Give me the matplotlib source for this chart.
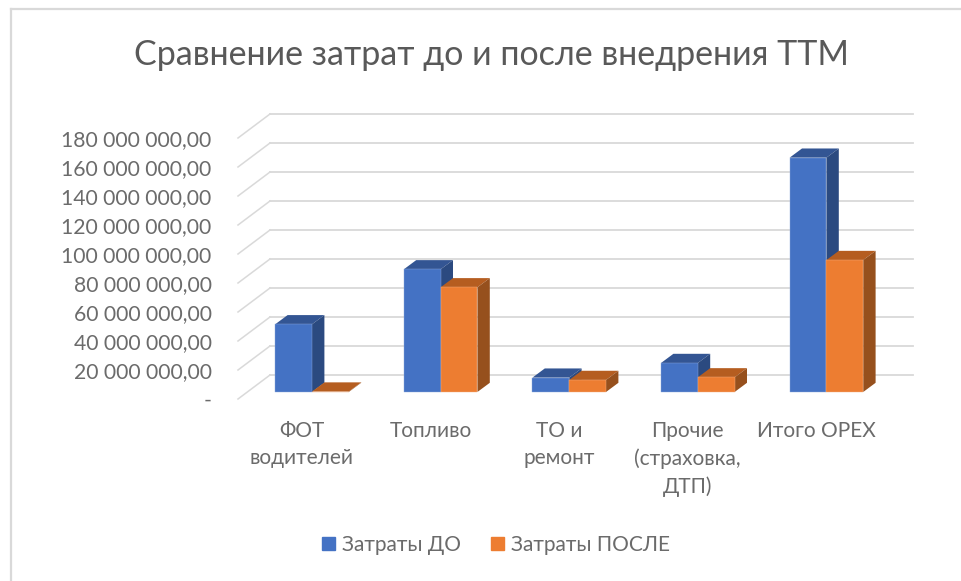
#!/usr/bin/python
# -*- coding: utf-8 -*-

import matplotlib
matplotlib.use("Agg")
import matplotlib.pyplot as plt
from matplotlib.patches import Patch, Polygon
from matplotlib.transforms import Affine2D, ScaledTranslation

plt.rcParams['font.family'] = ['Lato', 'Noto Sans', 'DejaVu Sans']

categories = ["ФОТ\nводителей", "Топливо", "ТО и\nремонт", "Прочие\n(страховка,\nДТП)", "Итого OPEX"]
costs_before = [46700000, 84600000, 9900000, 20000000, 161600000]
costs_after = [300000, 72200000, 8300000, 10100000, 91000000]
tick_values = [0, 20000000, 40000000, 60000000, 80000000, 100000000, 120000000, 140000000, 160000000, 180000000]
tick_labels = ["-", "20 000 000,00", "40 000 000,00", "60 000 000,00", "80 000 000,00", "100 000 000,00",
               "120 000 000,00", "140 000 000,00", "160 000 000,00", "180 000 000,00"]

W, H = 961, 581
GREY = "#D9D9D9"
TEXT = "#6B6B6B"
BLUE = ("#4472C4", "#335593", "#2B4A80")
ORANGE = ("#ED7D31", "#B55D20", "#96501D")

fig = plt.figure(figsize=(W / 100, H / 100), dpi=100)
ax = fig.add_axes([238 / W, (H - 392) / H, (913 - 238) / W, 261 / H])
ax.set_xlim(-0.5754, 4.6734)
ax.set_ylim(0, 180000000)
ax.patch.set_visible(False)
for s in ax.spines.values():
    s.set_visible(False)

# one pixel in data units, used for the fake 3d depth
px_x = 1 / 128.6
px_y = 20000000 / 29.0


def shifted(dx, dy):
    """data transform moved by some pixels"""
    return ax.transData + Affine2D().translate(dx, dy)


# walls and side lines of the fake 3d box
for v in tick_values:
    ax.plot([-0.5754 + 32 * px_x, 4.6734], [v, v], color=GREY, lw=1.3, clip_on=False,
            transform=shifted(0, 17), zorder=1)
    ax.plot([-0.5754, -0.5754 + 32 * px_x], [v, v + 24 * px_y], color=GREY, lw=1.1, clip_on=False,
            transform=shifted(0, -7), zorder=1)


def draw_bar(x, w, val, colors, z):
    dx = 12.4 * px_x
    dy = 9.2 * px_y
    ax.bar(x, val, w, align='edge', color=colors[0], edgecolor="#8FAADC" if colors is BLUE else "#F4B183",
           linewidth=0.3, zorder=z + 0.2, clip_on=False)
    ax.add_patch(Polygon([(x, val), (x + w, val), (x + w + dx, val + dy), (x + dx, val + dy)],
                         closed=True, color=colors[1], lw=0, zorder=z, clip_on=False))
    ax.add_patch(Polygon([(x + w, 0), (x + w + dx, dy), (x + w + dx, val + dy), (x + w, val)],
                         closed=True, color=colors[2], lw=0, zorder=z, clip_on=False))


bar_w = 36.8 * px_x
for i in range(len(categories)):
    draw_bar(i - bar_w, bar_w, costs_before[i], BLUE, 2 + i * 2)
    draw_bar(i, bar_w, costs_after[i], ORANGE, 3 + i * 2)

ax.set_yticks(tick_values)
ax.set_yticklabels(tick_labels, fontsize=15.2, color=TEXT)
ax.tick_params(axis='y', length=0, pad=19)
ax.set_xticks(range(len(categories)))
ax.set_xticklabels(categories, fontsize=15, color=TEXT, linespacing=1.45)
ax.tick_params(axis='x', length=0, pad=21)

# labels sit on the front edge of the box, not on the bar plane
y_shift = ScaledTranslation(0, -7 / 100, fig.dpi_scale_trans)
for lab in ax.get_yticklabels():
    lab.set_transform(lab.get_transform() + y_shift)
x_shift = ScaledTranslation(-10 / 100, 0, fig.dpi_scale_trans)
for lab in ax.get_xticklabels():
    lab.set_transform(lab.get_transform() + x_shift)

fig.text(491 / W, 1 - 55 / H, "Сравнение затрат до и после внедрения ТТМ", fontsize=24.5,
         color="#595959", ha='center', va='center')

handles = [Patch(color=BLUE[0], label="Затраты ДО"), Patch(color=ORANGE[0], label="Затраты ПОСЛЕ")]
fig.legend(handles=handles, loc='center', bbox_to_anchor=(496 / W, 1 - 545 / H), ncol=2, frameon=False,
           fontsize=15, labelcolor=TEXT, handlelength=0.62, handleheight=0.62, handletextpad=0.35,
           columnspacing=1.4)

# outer frame, only top and left show in the screenshot
fig.add_artist(plt.Line2D([10.5 / W, 10.5 / W], [0, 1 - 8.5 / H], color=GREY, lw=1.6))
fig.add_artist(plt.Line2D([10.5 / W, 1], [1 - 8.5 / H, 1 - 8.5 / H], color=GREY, lw=1.6))

fig.savefig("out.png", dpi=100)
